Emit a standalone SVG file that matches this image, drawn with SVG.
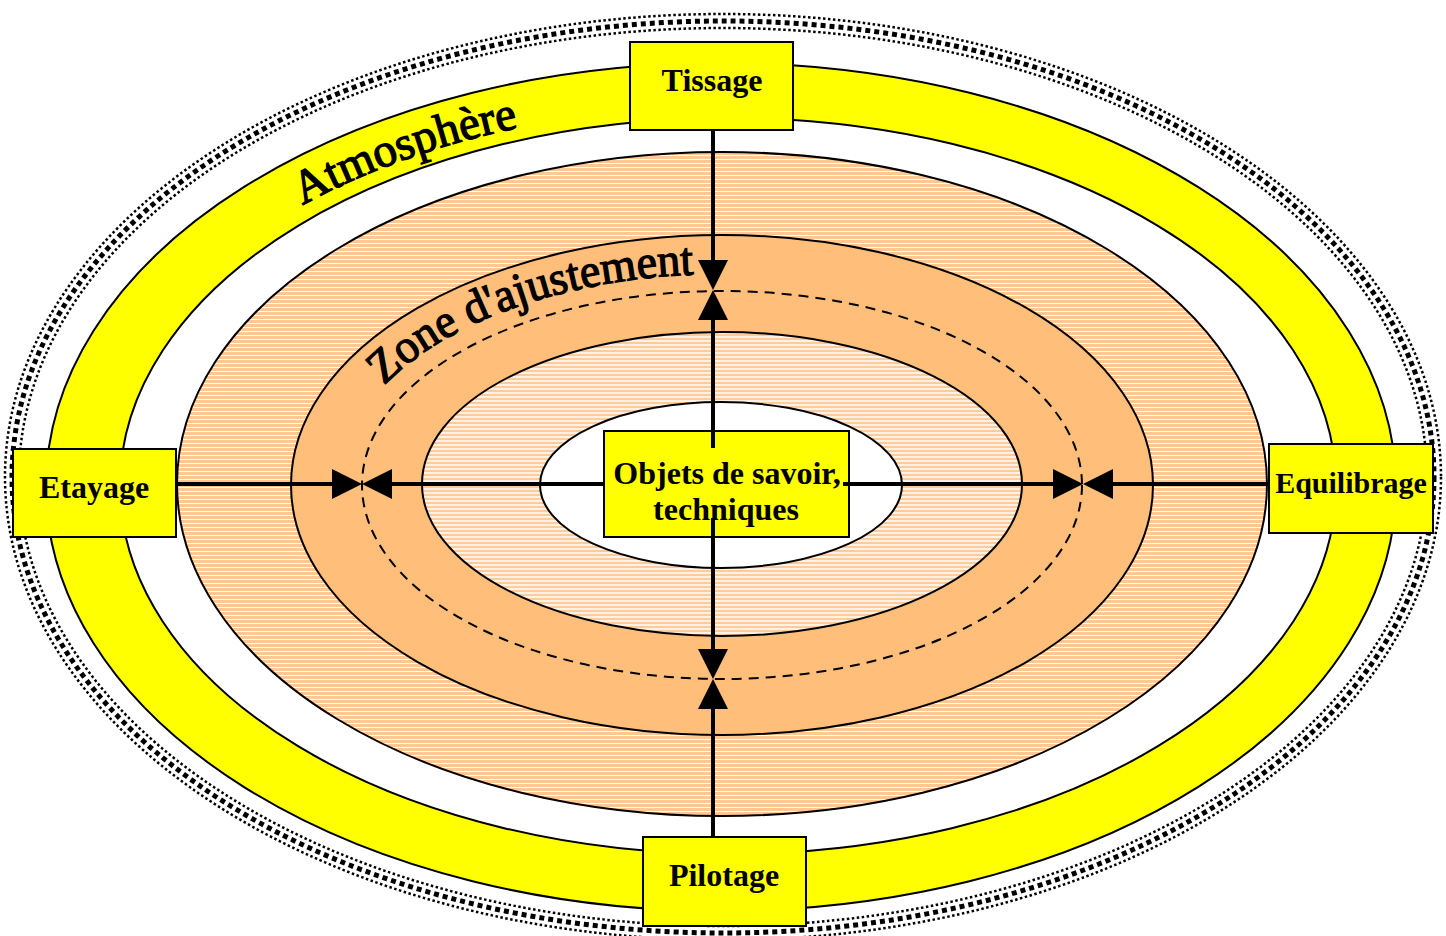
<svg xmlns="http://www.w3.org/2000/svg" width="1446" height="936" viewBox="0 0 1446 936">
<defs>
<pattern id="hatchA" width="8" height="4" patternUnits="userSpaceOnUse"><rect width="8" height="4" fill="#FFC893"/><rect y="3" width="8" height="1" fill="#FFFFFF"/></pattern>
<pattern id="hatchB" width="8" height="4" patternUnits="userSpaceOnUse"><rect width="8" height="4" fill="#FFF1E3"/><rect y="2" width="8" height="2" fill="#FFCB98"/></pattern>
<marker id="arr" markerUnits="userSpaceOnUse" markerWidth="30" markerHeight="30" refX="15" refY="15" orient="auto" viewBox="0 0 30 30"><path d="M0,0 L30,15 L0,30 z" fill="#000"/></marker>
<path id="atmPath" d="M97,487 A625,380 0 0 1 1347,487"/>
<path id="zonePath" d="M339,485 A383,211 0 0 1 1105,485"/>
</defs>
<style>
.ring{fill:none;stroke:#000}
.small{stroke-width:2.5;stroke-dasharray:2.5 2.5}
.big{stroke-width:5;stroke-dasharray:5 4}
.ol{stroke:#000;stroke-width:2}
.box{fill:#FFFF00;stroke:#000;stroke-width:2}
.lbl{font-family:"Liberation Serif","Times New Roman",serif;font-weight:bold;font-size:32px;fill:#000;text-anchor:middle}
.lbl.s{font-size:30px}
.curve{font-family:"Liberation Serif","Times New Roman",serif;font-size:47px;fill:#000;stroke:#000;stroke-width:1.3}
.conn{stroke:#000;stroke-width:4;fill:none;marker-end:url(#arr)}
</style>
<rect width="1446" height="936" fill="#fff"/>
<g id="ring">
<ellipse class="ring small" cx="723" cy="477" rx="718" ry="463"/>
<ellipse class="ring big" cx="723" cy="477" rx="711" ry="456"/>
<ellipse class="ring small" cx="723" cy="477" rx="704" ry="449"/>
</g>
<g id="atmosphere">
<ellipse class="ol" cx="721" cy="487" rx="675" ry="424" fill="#FFFF00"/>
<ellipse class="ol" cx="728" cy="486" rx="608" ry="368" fill="#FFFFFF"/>
</g>
<g id="zones">
<ellipse class="ol" cx="722" cy="484" rx="545" ry="332" fill="url(#hatchA)"/>
<ellipse class="ol" cx="722" cy="485" rx="431" ry="250" fill="#FFBE7A"/>
<ellipse cx="722" cy="485" rx="360" ry="194" fill="none" stroke="#000" stroke-width="2" stroke-dasharray="10 7"/>
<ellipse class="ol" cx="722" cy="484" rx="300" ry="152" fill="url(#hatchB)"/>
<ellipse class="ol" cx="721" cy="485" rx="181" ry="83" fill="#FFFFFF"/>
</g>
<text class="curve" id="atm-label"><textPath href="#atmPath" startOffset="366" textLength="230" lengthAdjust="spacingAndGlyphs">Atmosphère</textPath></text>
<text class="curve" id="zone-label"><textPath href="#zonePath" startOffset="112" textLength="336" lengthAdjust="spacingAndGlyphs">Zone d'ajustement</textPath></text>
<g id="tissage"><rect class="box" x="630" y="42" width="163" height="88"/><text class="lbl" x="712" y="91">Tissage</text></g>
<g id="etayage"><rect class="box" x="13" y="449" width="163" height="88"/><text class="lbl" x="94" y="498">Etayage</text></g>
<g id="equilibrage"><rect class="box" x="1269" y="444" width="164" height="89"/><text class="lbl s" x="1351" y="493">Equilibrage</text></g>
<g id="pilotage"><rect class="box" x="643" y="837" width="163" height="89"/><text class="lbl" x="724" y="886">Pilotage</text></g>
<g id="objets"><rect class="box" x="604" y="431" width="245" height="106"/></g>
<g id="connectors">
<line class="conn" x1="713" y1="130" x2="713" y2="275"/>
<line class="conn" x1="713" y1="448" x2="713" y2="305"/>
<line class="conn" x1="713" y1="837" x2="713" y2="694"/>
<line class="conn" x1="713" y1="518" x2="713" y2="664"/>
<line class="conn" x1="176" y1="484" x2="347" y2="484"/>
<line class="conn" x1="604" y1="484" x2="377" y2="484"/>
<line class="conn" x1="1269" y1="484" x2="1098" y2="484"/>
<line class="conn" x1="843" y1="484" x2="1068" y2="484"/>
</g>
<g id="objets-text"><text class="lbl" x="727" y="484">Objets de savoir,</text><text class="lbl" x="726" y="520">techniques</text></g>
</svg>
